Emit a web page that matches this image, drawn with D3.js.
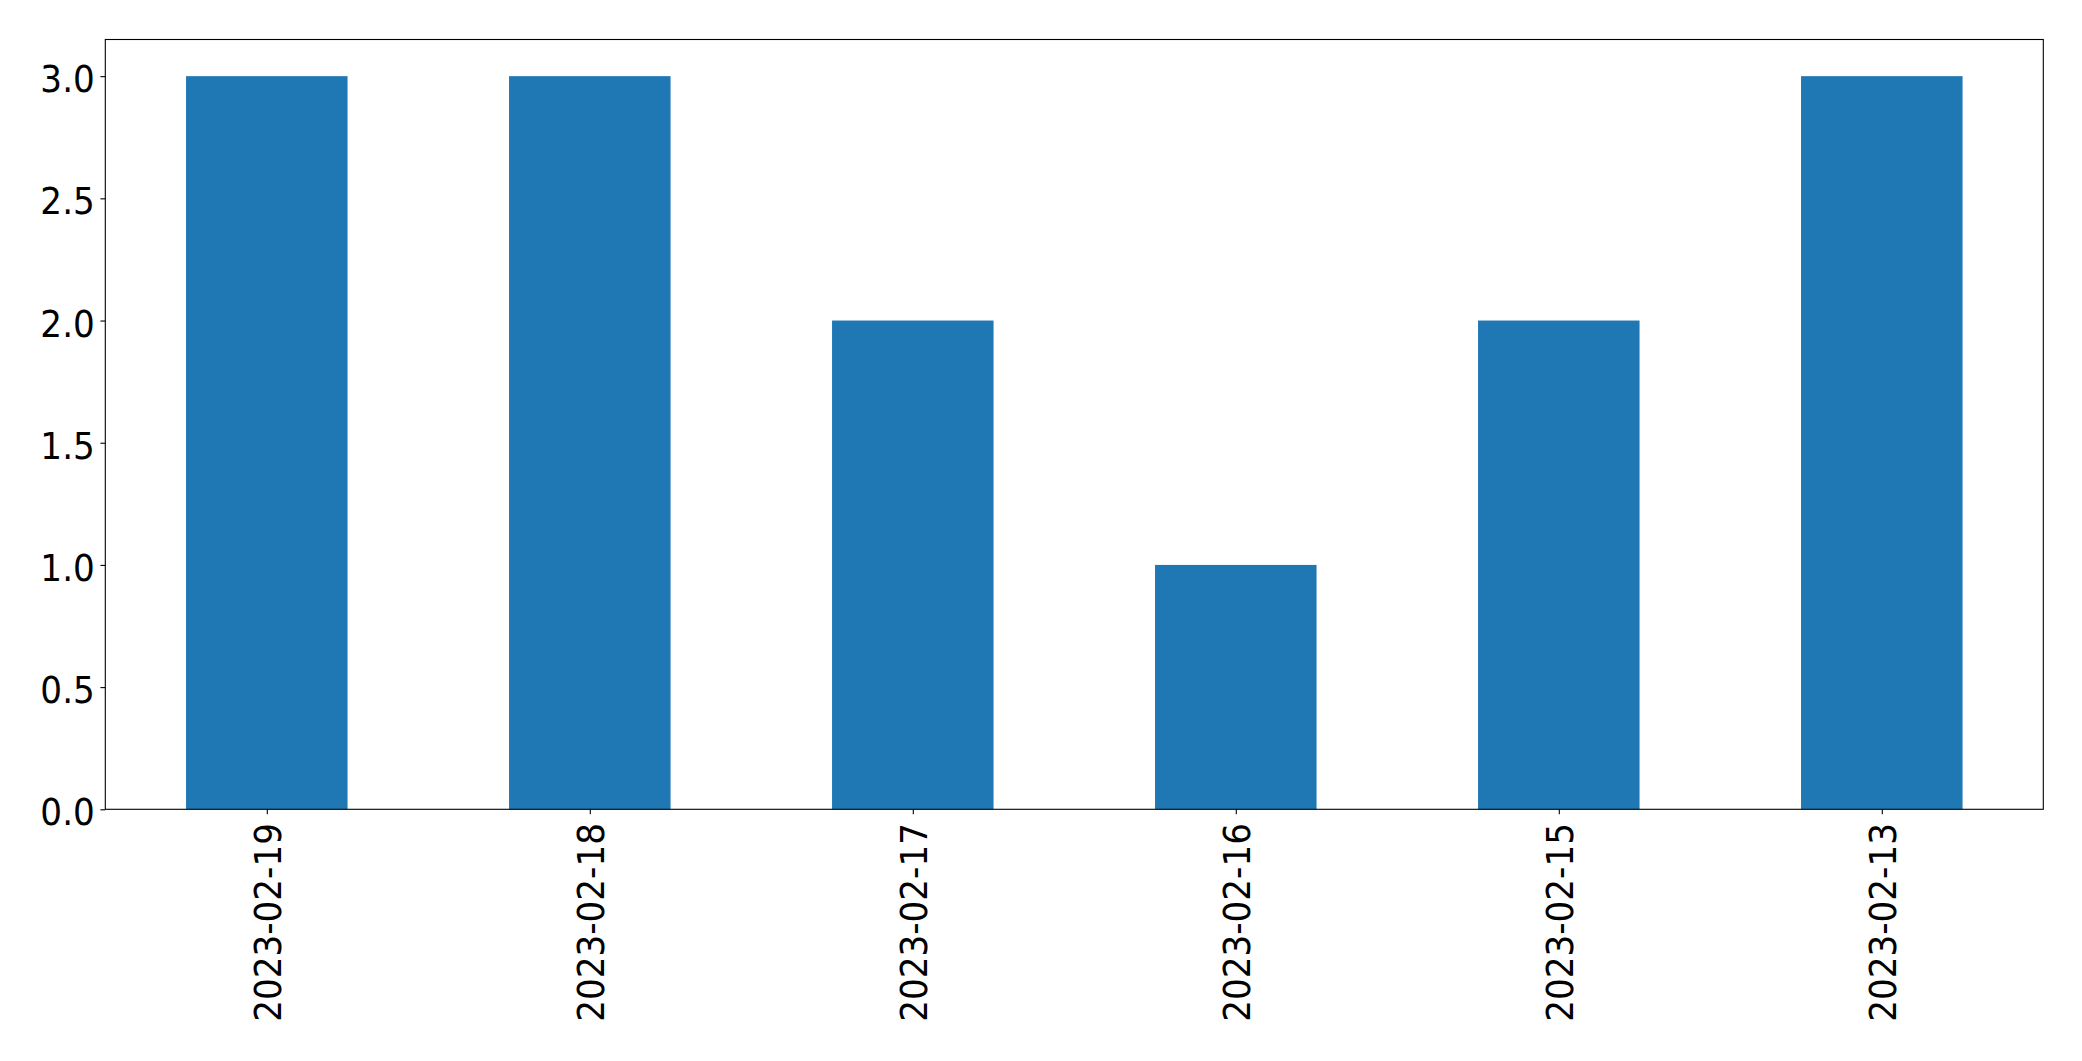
<!DOCTYPE html>
<html><head><meta charset="utf-8">
<script src="https://cdn.jsdelivr.net/npm/d3@7"></script>
<style>body{margin:0;background:#fff}svg{display:block}</style>
</head><body>
<svg id="c" width="2082" height="1061"></svg>
<script>
const categories = ["2023-02-19","2023-02-18","2023-02-17","2023-02-16","2023-02-15","2023-02-13"];
const values = [3,3,2,1,2,3];
const yTicks = [0,0.5,1.0,1.5,2.0,2.5,3.0];

const L=105.3, R=2043.3, T=39.5, B=809.3;
const svg=d3.select("#c");
const x=d3.scaleLinear().domain([-0.5,categories.length-0.5]).range([L,R]);
const y=d3.scaleLinear().domain([0,3.15]).range([B,T]);
const font="DejaVu Sans";
const fs=37.2;
const sx=0.92;

svg.append("g").selectAll("rect").data(values).join("rect")
  .attr("x",(d,i)=>x(i-0.25)).attr("width",(d,i)=>x(i+0.25)-x(i-0.25))
  .attr("y",d=>y(d)).attr("height",d=>y(0)-y(d)).attr("fill","#1f77b4");

const ya=d3.axisLeft(y).tickValues(yTicks).tickFormat(d3.format(".1f")).tickSize(4.86).tickPadding(4.86);
const gy=svg.append("g").attr("transform",`translate(${L},0)`).call(ya);
gy.select(".domain").remove();
gy.selectAll("line").attr("stroke","#000").attr("stroke-width",1.1);
gy.selectAll("text").attr("font-family",font).attr("font-size",fs).attr("fill","#000")
  .attr("x",0).attr("dy","0.42em").attr("transform",`translate(-10.5,0) scale(${sx},1)`);

const xa=d3.axisBottom(x).tickValues(d3.range(categories.length)).tickFormat(i=>categories[i]).tickSize(4.86).tickPadding(4.86);
const gx=svg.append("g").attr("transform",`translate(0,${B})`).call(xa);
gx.select(".domain").remove();
gx.selectAll("line").attr("stroke","#000").attr("stroke-width",1.1);
gx.selectAll("text").attr("font-family",font).attr("font-size",fs).attr("fill","#000")
  .attr("transform",`translate(0,13.7) rotate(-90) scale(${sx},1)`).attr("text-anchor","end").attr("x",0).attr("y",0).attr("dy","0.38em");

svg.append("rect").attr("x",L).attr("y",T).attr("width",R-L).attr("height",B-T)
  .attr("fill","none").attr("stroke","#000").attr("stroke-width",1.1);
</script>
</body></html>
